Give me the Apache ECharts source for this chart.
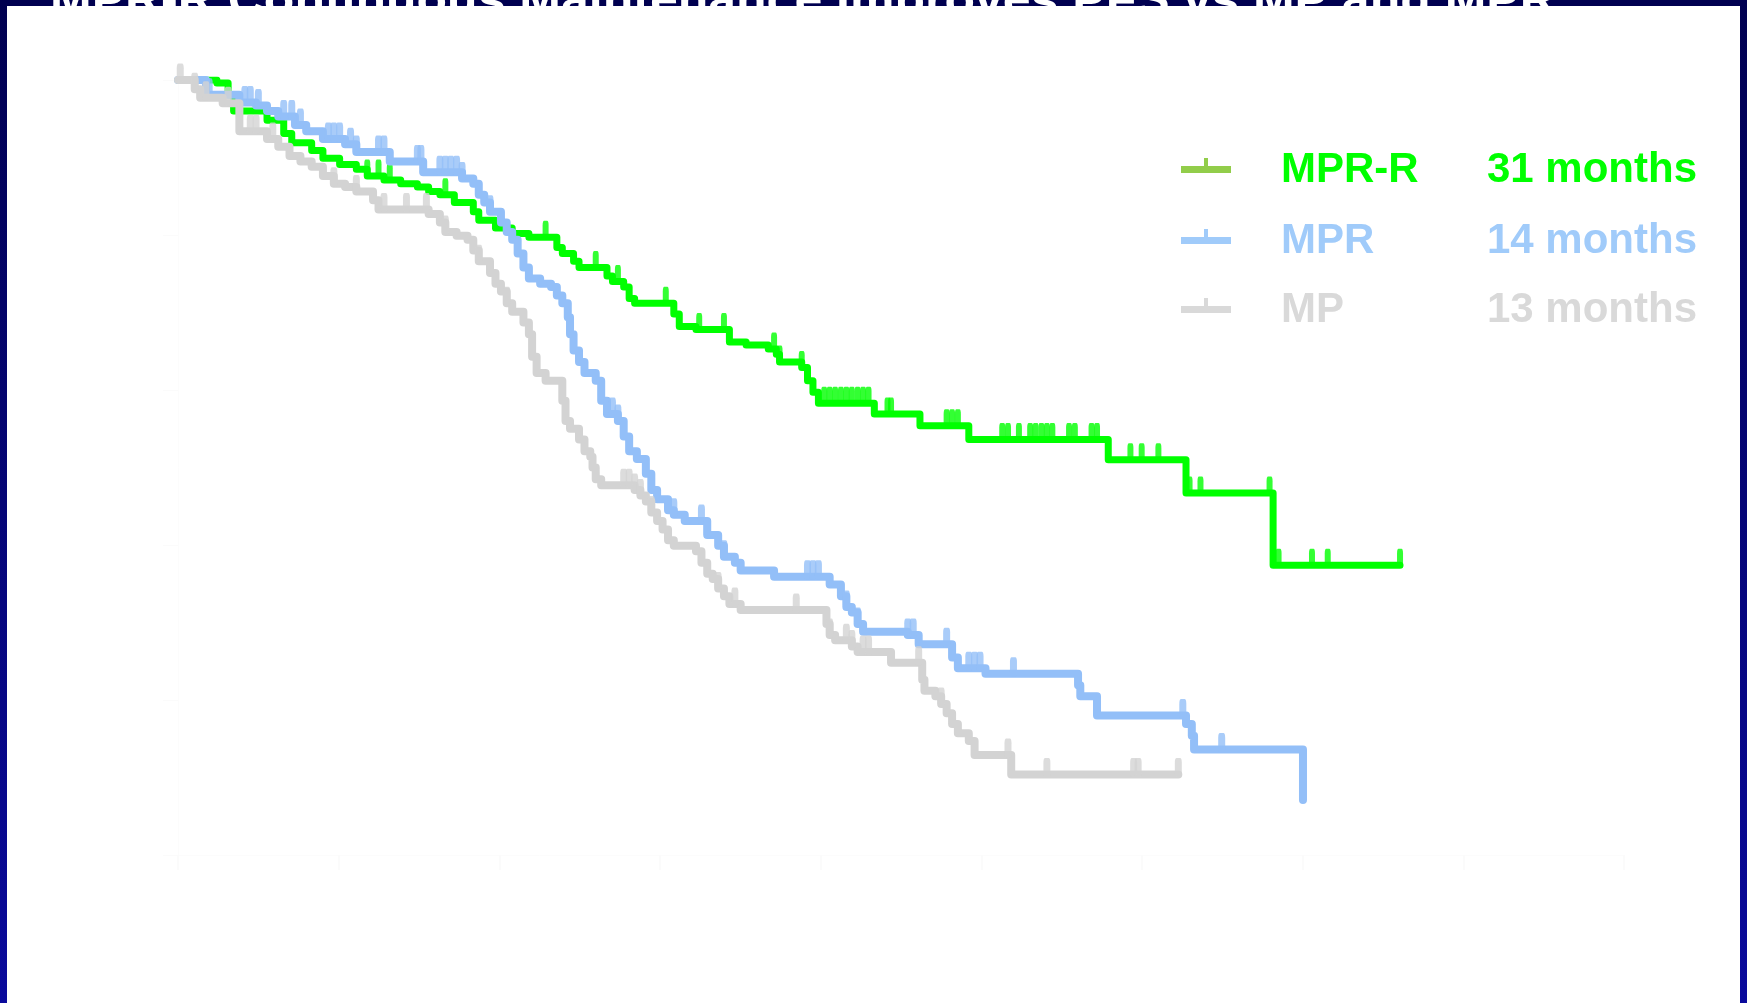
<!DOCTYPE html>
<html>
<head>
<meta charset="utf-8">
<script src="https://cdn.jsdelivr.net/npm/echarts/dist/echarts.min.js"></script>
<style>
  html, body { margin: 0; padding: 0; background: #ffffff; }
  #chart { width: 1747px; height: 1003px; }
</style>
</head>
<body>
<div id="chart"></div>
<script>
// Progression-free survival, Kaplan-Meier estimates (months, proportion event-free)
const groupNames = ['MPR-R', 'MPR', 'MP'];
const medianLabels = ['31 months', '14 months', '13 months'];

const mprrTime = [0, 1.21, 1.56, 1.73, 2.77, 3.29, 3.54, 4.16, 4.51, 5.03, 5.55, 5.89, 6.41, 6.93, 7.45, 7.80, 8.15, 8.60, 9.19, 9.36, 9.88, 10.40, 10.92, 11.79, 11.96, 12.31, 12.48, 13.35, 13.52, 13.87, 14.04, 14.21, 15.43, 15.60, 16.12, 17.16, 17.68, 18.37, 18.62, 18.72, 19.41, 19.59, 19.76, 19.93, 21.67, 23.09, 24.61, 28.95, 31.37, 34.08, 38.03];
const mprrSurv = [1, 0.996, 0.981, 0.960, 0.948, 0.931, 0.919, 0.909, 0.899, 0.891, 0.885, 0.876, 0.871, 0.866, 0.862, 0.856, 0.852, 0.842, 0.830, 0.819, 0.809, 0.802, 0.797, 0.784, 0.776, 0.766, 0.758, 0.747, 0.740, 0.733, 0.718, 0.712, 0.698, 0.682, 0.678, 0.662, 0.658, 0.653, 0.646, 0.636, 0.629, 0.612, 0.597, 0.583, 0.569, 0.554, 0.536, 0.510, 0.467, 0.374, 0.374];
const mprrCensor = [5.89, 6.24, 6.59, 8.32, 11.44, 13.0, 13.69, 15.18, 16.22, 16.99, 18.55, 18.72, 19.41, 20.11, 20.28, 20.45, 20.63, 20.80, 20.97, 21.15, 21.32, 21.49, 22.08, 22.19, 23.92, 24.09, 24.27, 25.65, 25.83, 26.17, 26.52, 26.69, 26.87, 27.04, 27.21, 27.73, 27.91, 28.43, 28.60, 29.64, 29.99, 30.51, 31.48, 31.82, 33.97, 34.25, 35.29, 35.78, 38.03];

const mprTime = [0, 0.87, 1.91, 2.43, 2.77, 3.12, 3.64, 3.99, 4.51, 5.20, 5.55, 6.59, 7.63, 8.84, 9.19, 9.36, 9.53, 9.71, 10.05, 10.23, 10.40, 10.57, 10.75, 10.92, 11.27, 11.61, 11.79, 11.96, 12.13, 12.20, 12.31, 12.48, 12.65, 13.00, 13.17, 13.35, 13.69, 13.87, 14.04, 14.28, 14.56, 14.73, 14.91, 15.25, 15.43, 15.77, 16.47, 16.81, 16.99, 17.33, 17.51, 18.55, 20.28, 20.63, 20.80, 20.97, 21.15, 21.32, 22.71, 23.05, 24.09, 24.27, 25.13, 28.01, 28.08, 28.60, 31.37, 31.55, 31.62, 35.01];
const mprSurv = [1, 0.981, 0.971, 0.967, 0.960, 0.953, 0.942, 0.934, 0.924, 0.917, 0.907, 0.895, 0.881, 0.873, 0.866, 0.852, 0.842, 0.830, 0.816, 0.804, 0.794, 0.776, 0.758, 0.744, 0.737, 0.733, 0.722, 0.712, 0.694, 0.672, 0.651, 0.636, 0.622, 0.612, 0.586, 0.569, 0.560, 0.540, 0.521, 0.511, 0.492, 0.471, 0.459, 0.445, 0.439, 0.431, 0.413, 0.399, 0.385, 0.377, 0.367, 0.359, 0.349, 0.334, 0.320, 0.313, 0.298, 0.288, 0.284, 0.272, 0.255, 0.241, 0.234, 0.219, 0.205, 0.180, 0.169, 0.154, 0.136, 0.071];
const mprCensor = [0.97, 2.08, 2.25, 2.50, 3.29, 3.54, 3.81, 4.68, 4.85, 5.03, 5.37, 5.55, 6.24, 6.41, 7.45, 7.56, 8.15, 8.32, 8.49, 8.67, 8.84, 9.71, 13.35, 13.52, 13.69, 15.43, 16.29, 16.47, 16.99, 19.59, 19.76, 19.93, 20.80, 21.15, 22.71, 22.88, 23.92, 24.61, 24.79, 24.96, 26.00, 31.27, 32.48];

const mpTime = [0, 0.52, 0.69, 1.39, 1.91, 1.91, 2.77, 3.12, 3.47, 3.81, 4.16, 4.51, 4.85, 5.20, 5.55, 6.07, 6.24, 7.80, 8.15, 8.32, 8.67, 9.01, 9.19, 9.36, 9.71, 9.88, 10.05, 10.23, 10.40, 10.75, 10.92, 11.02, 11.16, 11.44, 11.96, 12.06, 12.20, 12.48, 12.65, 12.83, 12.90, 13.00, 13.17, 14.21, 14.39, 14.56, 14.73, 14.91, 15.08, 15.25, 15.43, 16.12, 16.29, 16.47, 16.64, 16.81, 16.99, 17.16, 17.51, 20.18, 20.28, 20.45, 20.97, 21.15, 22.19, 23.16, 23.23, 23.57, 23.75, 23.92, 24.09, 24.27, 24.61, 24.79, 25.93, 31.13];
const mpSurv = [1, 0.988, 0.977, 0.970, 0.960, 0.934, 0.924, 0.914, 0.902, 0.895, 0.888, 0.876, 0.866, 0.862, 0.856, 0.845, 0.833, 0.827, 0.816, 0.804, 0.799, 0.794, 0.780, 0.766, 0.751, 0.737, 0.727, 0.712, 0.701, 0.687, 0.672, 0.643, 0.622, 0.612, 0.586, 0.560, 0.550, 0.536, 0.521, 0.514, 0.500, 0.485, 0.477, 0.471, 0.464, 0.456, 0.442, 0.431, 0.420, 0.406, 0.399, 0.392, 0.377, 0.363, 0.356, 0.344, 0.334, 0.324, 0.316, 0.298, 0.284, 0.277, 0.269, 0.262, 0.248, 0.226, 0.212, 0.205, 0.195, 0.183, 0.169, 0.157, 0.147, 0.129, 0.104, 0.104];
const mpCensor = [0.07, 0.52, 0.87, 1.56, 2.25, 2.43, 2.95, 4.85, 5.55, 6.41, 7.11, 7.73, 8.32, 9.36, 10.23, 13.87, 14.04, 14.21, 14.39, 14.73, 16.81, 17.33, 19.24, 20.28, 20.80, 20.97, 21.32, 21.49, 23.05, 23.75, 25.83, 27.04, 29.74, 29.88, 31.13];

const lineColors = ['#00ff00', '#93bff8', '#d3d3d3'];
const legendSwatch = ['#92cd4a', '#a0cbfa', '#d9d9d9'];
const legendText = ['#00ff00', '#a0cbfa', '#d9d9d9'];

function pairs(t, s) { return t.map((v, i) => [v, s[i]]); }
function survivalAt(t, s, x) {
  let v = s[0];
  for (let i = 0; i < t.length; i++) { if (t[i] <= x) v = s[i]; }
  return v;
}
function censorPoints(t, s, c) { return c.map(x => [x, survivalAt(t, s, x)]); }

const curves = [
  { t: mprrTime, s: mprrSurv, c: mprrCensor, w: 7 },
  { t: mprTime, s: mprSurv, c: mprCensor, w: 8 },
  { t: mpTime, s: mpSurv, c: mpCensor, w: 8 }
];

const series = [];
curves.forEach((cv, i) => {
  series.push({
    name: groupNames[i], type: 'line', step: 'end', showSymbol: false, z: 2 + i,
    data: pairs(cv.t, cv.s),
    lineStyle: { color: lineColors[i], width: cv.w, join: 'round', cap: 'round' },
    silent: true, animation: false
  });
  series.push({
    name: groupNames[i] + ' censored', type: 'scatter', z: 2 + i,
    data: censorPoints(cv.t, cv.s, cv.c),
    symbol: 'roundRect', symbolSize: [cv.w - 1, 19], symbolOffset: [0, -7],
    itemStyle: { color: lineColors[i] },
    silent: true, animation: false
  });
});

// legend block: swatch with censor tick, group name, median PFS
const legendRows = [170, 241, 310];
const legendGraphics = [];
legendRows.forEach((y, i) => {
  legendGraphics.push({ type: 'rect', shape: { x: 1181, y: y - 4, width: 50, height: 7 }, style: { fill: legendSwatch[i] } });
  legendGraphics.push({ type: 'rect', shape: { x: 1204, y: y - 12, width: 4, height: 9 }, style: { fill: legendSwatch[i] } });
  legendGraphics.push({ type: 'text', x: 1281, y: y, style: { text: groupNames[i], fill: legendText[i], font: 'bold 42px "Liberation Sans", Arial, sans-serif', verticalAlign: 'middle' } });
  legendGraphics.push({ type: 'text', x: 1697, y: y, style: { text: medianLabels[i], fill: legendText[i], font: 'bold 42px "Liberation Sans", Arial, sans-serif', verticalAlign: 'middle', align: 'right' } });
});

const chart = echarts.init(document.getElementById('chart'), null, { renderer: 'canvas' });
chart.setOption({
  backgroundColor: '#ffffff',
  animation: false,
  grid: { left: 178, top: 80, right: 123, bottom: 148, containLabel: false },
  xAxis: {
    type: 'value', min: 0, max: 45, interval: 5,
    axisLine: { show: true, lineStyle: { color: '#fcfcfc', width: 1 } },
    axisTick: { show: true, length: 15, lineStyle: { color: '#fbfbfb', width: 2 } },
    axisLabel: { show: false },
    splitLine: { show: false }
  },
  yAxis: {
    type: 'value', min: 0, max: 1, interval: 0.2,
    axisLine: { show: true, lineStyle: { color: '#fcfcfc', width: 1 } },
    axisTick: { show: true, length: 15, lineStyle: { color: '#fbfbfb', width: 1 } },
    axisLabel: { show: false },
    splitLine: { show: false }
  },
  series: series,
  graphic: [
    // slide frame: header strip and side rules
    { type: 'rect', z: 100, shape: { x: 0, y: 0, width: 1747, height: 6 }, style: { fill: '#000050' } },
    { type: 'rect', z: 100, shape: { x: 0, y: 0, width: 7, height: 1003 },
      style: { fill: new echarts.graphic.LinearGradient(0, 0, 0, 1, [{ offset: 0, color: '#000050' }, { offset: 1, color: '#0a0a9c' }]) } },
    { type: 'rect', z: 100, shape: { x: 1740, y: 0, width: 7, height: 1003 },
      style: { fill: new echarts.graphic.LinearGradient(0, 0, 0, 1, [{ offset: 0, color: '#000050' }, { offset: 1, color: '#0a0a9c' }]) } },
    { type: 'text', z: 101, x: 50, y: 2,
      style: { text: 'MPR-R Continuous Maintenance Improves PFS vs MP and MPR', fill: '#ffffff', font: 'bold 50px "Liberation Sans", Arial, sans-serif', verticalAlign: 'middle' } },
    { type: 'group', z: 50, children: legendGraphics }
  ]
});
</script>
</body>
</html>
